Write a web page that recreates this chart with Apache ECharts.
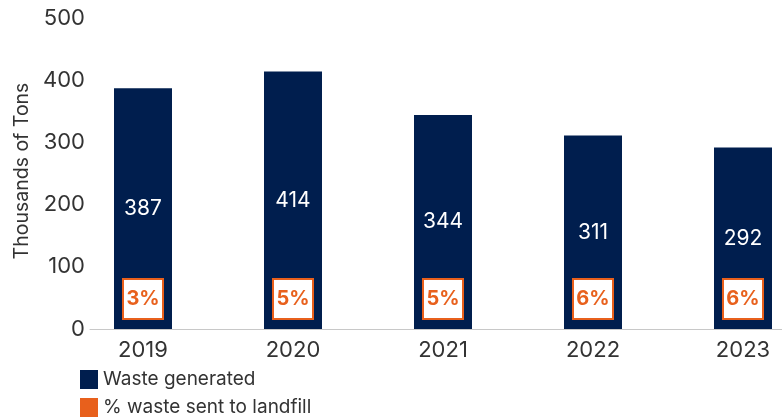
<!DOCTYPE html>
<html>
<head>
<meta charset="utf-8">
<script src="https://cdn.jsdelivr.net/npm/echarts@6/dist/echarts.min.js"></script>
<style>html,body{margin:0;padding:0;background:#fff}#c{width:782px;height:418px}</style>
</head>
<body>
<div id="c"></div>
<script>
const years = ['2019', '2020', '2021', '2022', '2023'];
const wasteGenerated = [387, 414, 344, 311, 292];
const landfillPct = [3, 5, 5, 6, 6];
const yTicks = [0, 100, 200, 300, 400, 500];

const NAVY = '#001e4e';
const ORANGE = '#e8601c';
const FONT = 'Inter';
const chart = echarts.init(document.getElementById('c'));
chart.setOption({
  animation: false,
  textStyle: { fontFamily: FONT },
  legend: {
    orient: 'vertical', left: 80, top: 370, padding: 0, itemWidth: 18, itemHeight: 19, itemGap: 9,
    icon: 'rect',
    textStyle: { fontSize: 19, color: '#333', fontFamily: FONT },
    data: ['Waste generated', { name: '% waste sent to landfill', itemStyle: { color: ORANGE } }]
  },
  grid: [
    { left: 68, right: -36, top: 18, bottom: 89, outerBoundsMode: 'none', containLabel: false },
    { left: 90, right: 0, top: 18, bottom: 89, outerBoundsMode: 'none', containLabel: false }
  ],
  xAxis: [
    { type: 'category', gridIndex: 0, data: years,
      axisLine: { show: false }, axisTick: { show: false },
      axisLabel: { fontSize: 22, color: '#333', margin: 10, fontFamily: FONT } },
    { type: 'category', gridIndex: 1, data: years,
      axisLine: { show: true, lineStyle: { color: '#c8c8c8', width: 1 } },
      axisTick: { show: false }, axisLabel: { show: false } }
  ],
  yAxis: [
    { type: 'value', gridIndex: 0, min: 0, max: 500, show: false },
    { type: 'value', gridIndex: 0, min: 0, max: 100, show: false },
    { type: 'value', gridIndex: 1, min: yTicks[0], max: yTicks[yTicks.length - 1], interval: 100,
      axisLine: { show: false }, axisTick: { show: false }, splitLine: { show: false },
      axisLabel: { fontSize: 22, color: '#333', margin: 5, fontFamily: FONT },
      name: 'Thousands of Tons', nameLocation: 'middle', nameGap: 58,
      nameTextStyle: { fontSize: 19.5, color: '#333', fontFamily: FONT, padding: [0, 0, 0, 5] } }
  ],
  series: [
    { name: 'Waste generated', type: 'bar', xAxisIndex: 0, yAxisIndex: 0,
      data: wasteGenerated, barWidth: 58, barGap: '-100%',
      itemStyle: { color: NAVY },
      label: { show: true, position: 'inside', color: '#fff', fontSize: 21, fontFamily: FONT } },
    { name: '% waste sent to landfill', type: 'bar', xAxisIndex: 0, yAxisIndex: 1,
      data: landfillPct.map(v => ({ value: v, itemStyle: { color: 'rgba(0,0,0,0)' } })),
      barWidth: 58, barGap: '-100%', itemStyle: { color: ORANGE }, z: 5,
      label: { show: true, position: 'insideBottom', distance: 11,
        formatter: p => p.value + '%',
        color: ORANGE, fontSize: 20, fontWeight: 'bold', fontFamily: FONT,
        backgroundColor: '#fff', borderColor: ORANGE, borderWidth: 2,
        width: 38, height: 38, lineHeight: 38, align: 'center', padding: 0 } }
  ]
});
</script>
</body>
</html>
